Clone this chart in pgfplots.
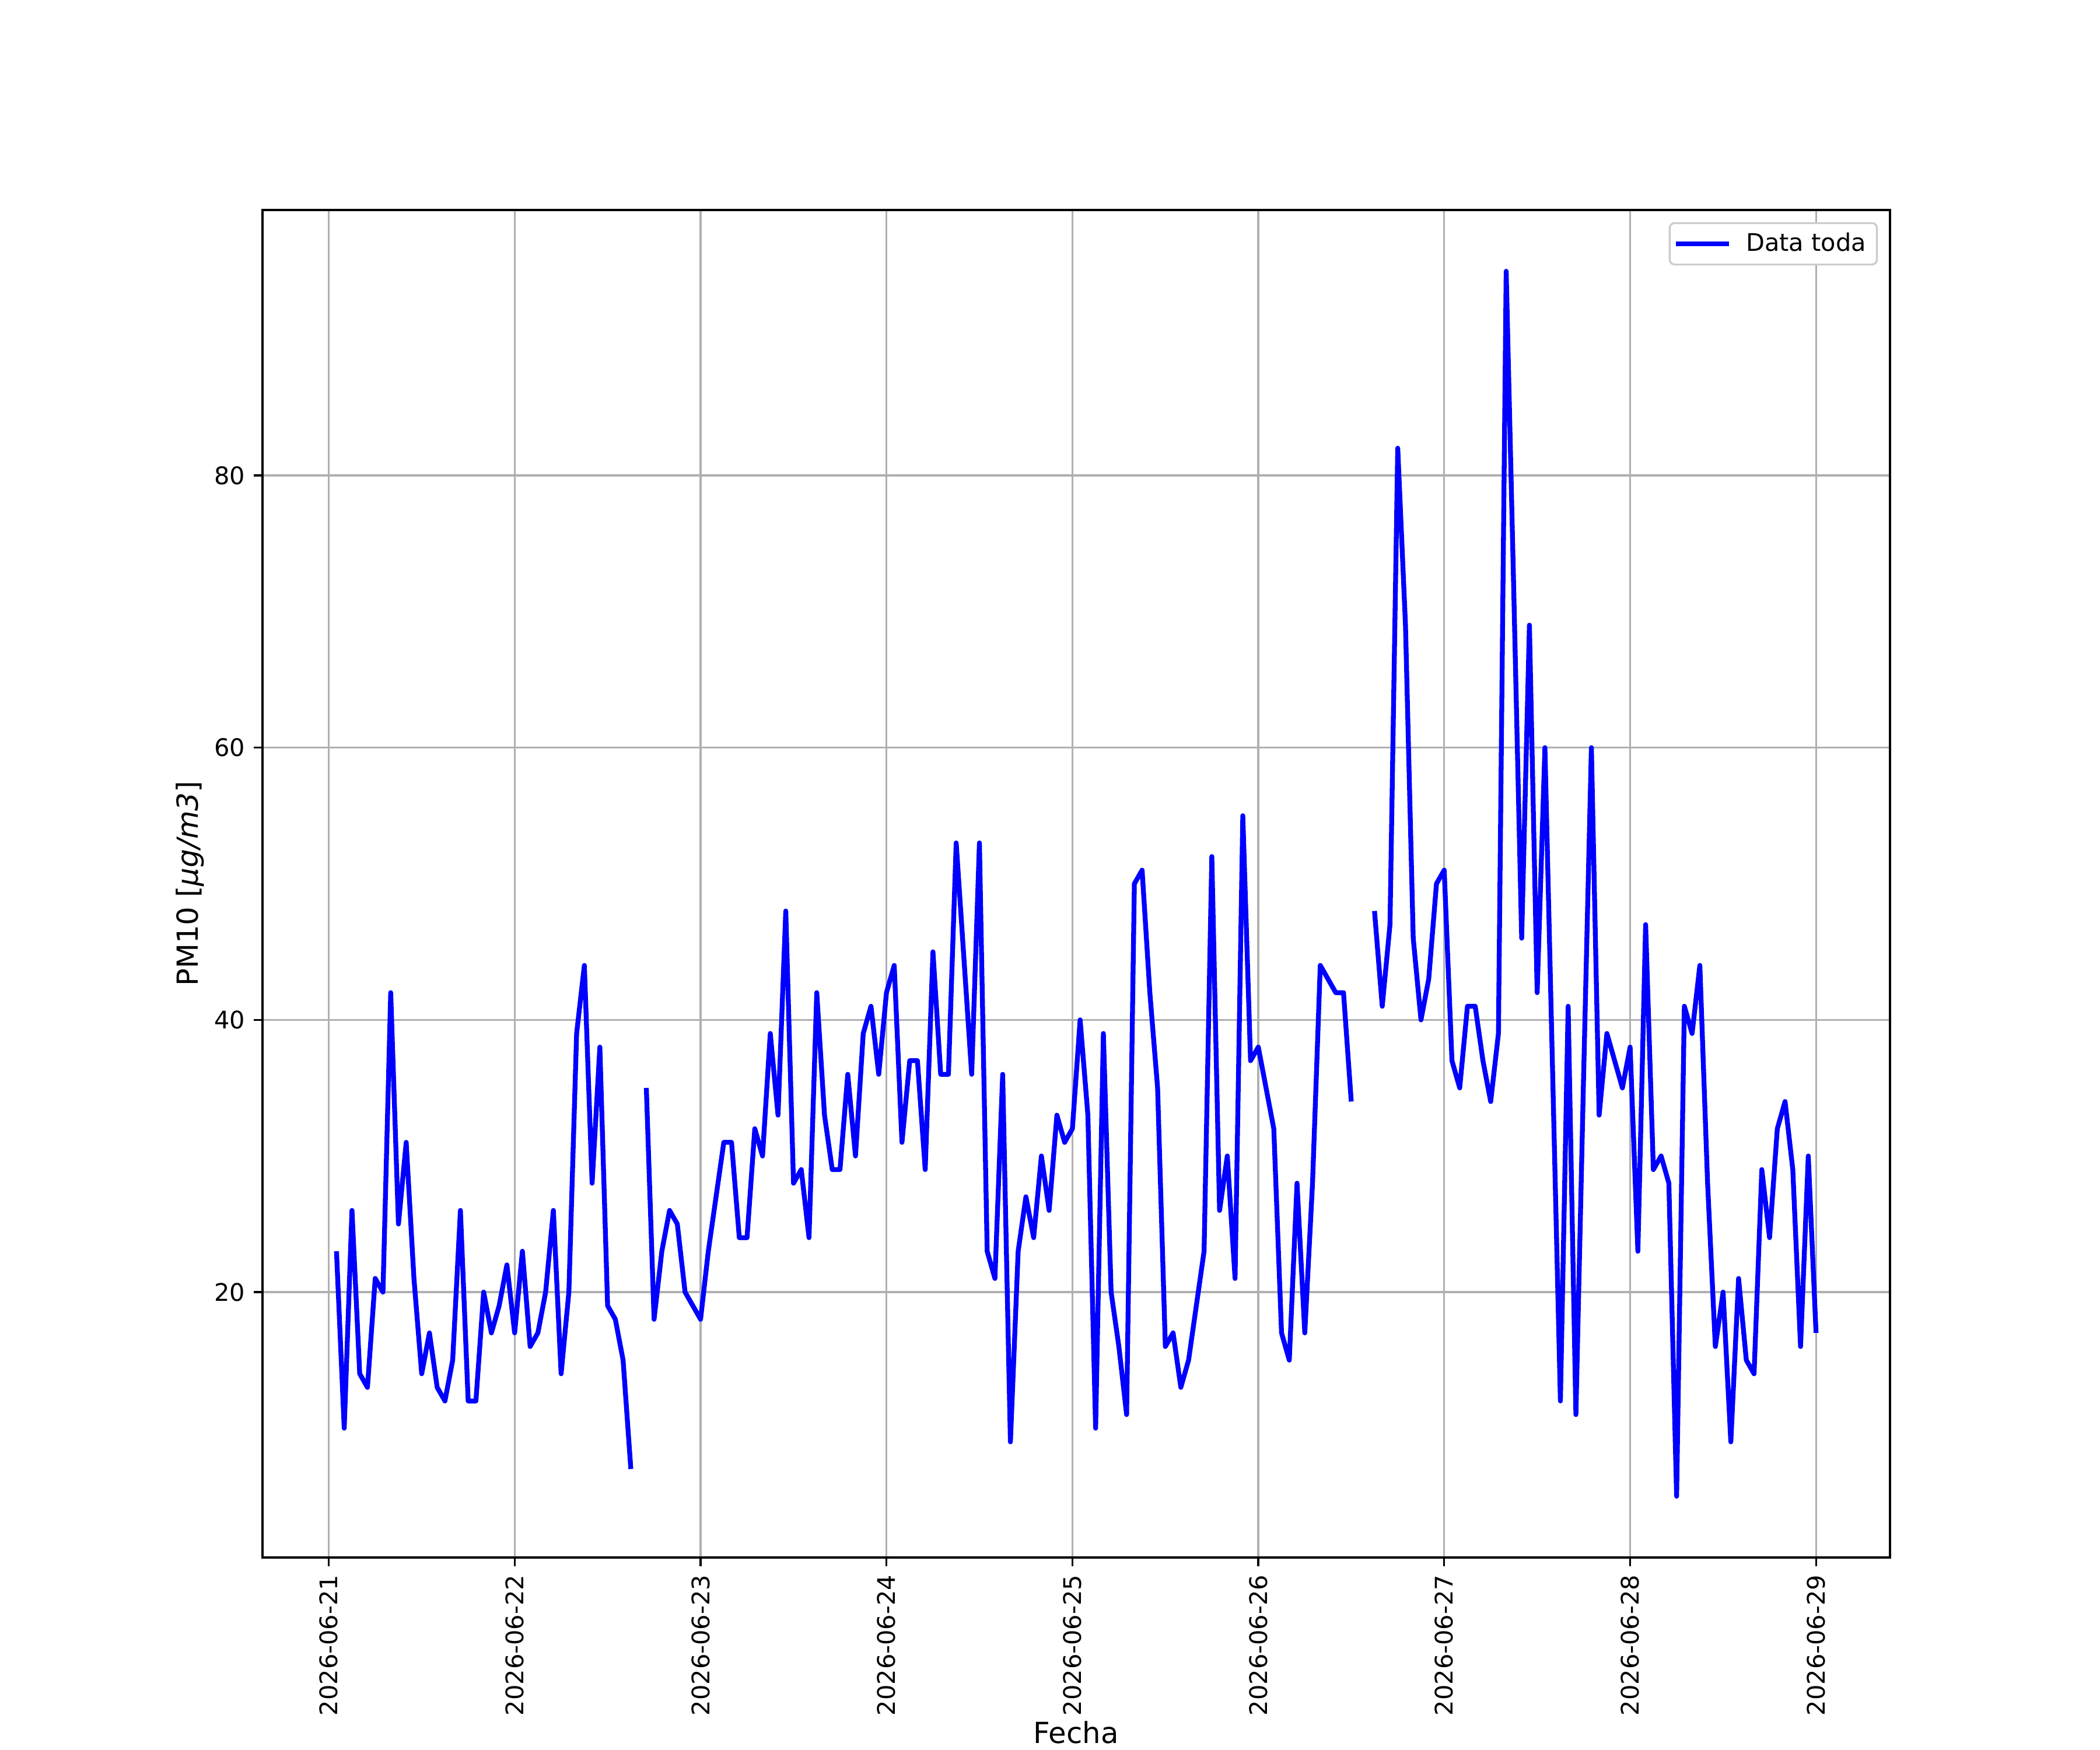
\documentclass[border=0pt]{standalone}
\usepackage{fontspec}
\setmainfont{DejaVu Sans}
\usepackage{pgfplots}
\pgfplotsset{compat=1.18}
\definecolor{gridgray}{RGB}{176,176,176}
\definecolor{legframe}{RGB}{204,204,204}
\begin{document}
\fontsize{10}{12}\selectfont
\begin{tikzpicture}
\path (0,0) rectangle (12in,10in);
\begin{axis}[
  at={(1.5in,1.1in)}, anchor=south west,
  scale only axis, width=9.3in, height=7.7in,
  xmin=-8.55, xmax=201.55, ymin=0.5, ymax=99.5,
  xtick={0,24,48,72,96,120,144,168,192},
  xticklabels={2026-06-21,2026-06-22,2026-06-23,2026-06-24,2026-06-25,2026-06-26,2026-06-27,2026-06-28,2026-06-29},
  ytick={20,40,60,80},
  xtick pos=bottom, ytick pos=left,
  tick align=outside, major tick length=3.5pt,
  tick style={black, line width=0.8pt},
  axis line style={black, line width=0.8pt},
  grid=major, major grid style={gridgray, line width=0.8pt},
  xticklabel style={rotate=90, anchor=east, inner sep=0pt, xshift=-3.5pt},
  yticklabel style={inner sep=0pt, xshift=-3.5pt},
  /pgf/number format/assume math mode=true,
  xlabel={Fecha}, ylabel={PM10 [\textit{μg/m3}]},
  label style={font=\fontsize{12}{14}\selectfont},
  xlabel style={inner sep=0pt, yshift=-2pt},
  ylabel style={inner sep=0pt, yshift=4pt},
  unbounded coords=jump,
  legend style={at={(rel axis cs:1,1)}, anchor=north east, xshift=-5pt, yshift=-5pt,
    draw=legframe, line width=0.8pt, rounded corners=2pt, inner xsep=2.5pt, inner ysep=2pt,
    font=\fontsize{10}{12}\selectfont},
  legend cell align=left,
  legend image code/.code={\draw[#1, line cap=rect] (0pt,0pt) -- (20pt,0pt); \path (25pt,0pt);},
]
\addplot[color={rgb,255:red,0;green,0;blue,255}, line width=2pt, line join=round] table {
x y
1 23
2 10
3 26
4 14
5 13
6 21
7 20
8 42
9 25
10 31
11 21
12 14
13 17
14 13
15 12
16 15
17 26
18 12
19 12
20 20
21 17
22 19
23 22
24 17
25 23
26 16
27 17
28 20
29 26
30 14
31 20
32 39
33 44
34 28
35 38
36 19
37 18
38 15
39 7
40 nan
41 35
42 18
43 23
44 26
45 25
46 20
47 19
48 18
49 23
50 27
51 31
52 31
53 24
54 24
55 32
56 30
57 39
58 33
59 48
60 28
61 29
62 24
63 42
64 33
65 29
66 29
67 36
68 30
69 39
70 41
71 36
72 42
73 44
74 31
75 37
76 37
77 29
78 45
79 36
80 36
81 53
82 44.5
83 36
84 53
85 23
86 21
87 36
88 9
89 23
90 27
91 24
92 30
93 26
94 33
95 31
96 32
97 40
98 33
99 10
100 39
101 20
102 16
103 11
104 50
105 51
106 42
107 35
108 16
109 17
110 13
111 15
112 19
113 23
114 52
115 26
116 30
117 21
118 55
119 37
120 38
121 35
122 32
123 17
124 15
125 28
126 17
127 28
128 44
129 43
130 42
131 42
132 34
133 nan
134 nan
135 48
136 41
137 47
138 82
139 69
140 46
141 40
142 43
143 50
144 51
145 37
146 35
147 41
148 41
149 37
150 34
151 39
152 95
153 71
154 46
155 69
156 42
157 60
158 36
159 12
160 41
161 11
162 36
163 60
164 33
165 39
166 37
167 35
168 38
169 23
170 47
171 29
172 30
173 28
174 5
175 41
176 39
177 44
178 28
179 16
180 20
181 9
182 21
183 15
184 14
185 29
186 24
187 32
188 34
189 29
190 16
191 30
192 17
};
\addlegendentry{Data toda}
\end{axis}
\pgfresetboundingbox
\path (0,0) rectangle (12in,10in);
\end{tikzpicture}
\end{document}
